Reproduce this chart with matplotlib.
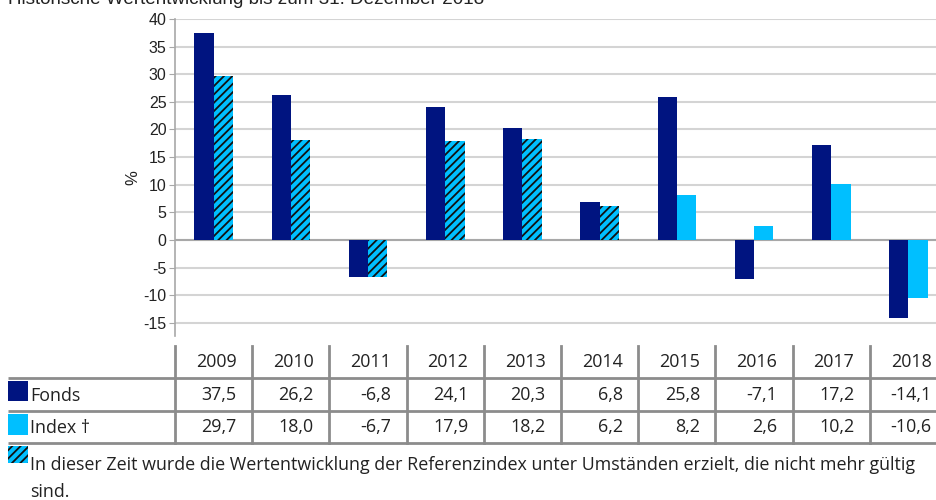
import matplotlib
matplotlib.use("Agg")
import matplotlib.pyplot as plt
import matplotlib.transforms as mtransforms
from matplotlib.patches import Rectangle
import numpy as np

plt.rcParams['axes.unicode_minus'] = False
plt.rcParams['hatch.linewidth'] = 1.3
plt.rcParams['hatch.color'] = '#111111'

years = ["2009", "2010", "2011", "2012", "2013", "2014", "2015", "2016", "2017", "2018"]
fonds = [37.5, 26.2, -6.8, 24.1, 20.3, 6.8, 25.8, -7.1, 17.2, -14.1]
index = [29.7, 18.0, -6.7, 17.9, 18.2, 6.2, 8.2, 2.6, 10.2, -10.6]
hatched = [True, True, True, True, True, True, False, False, False, False]
series_names = ["Fonds", "Index †"]
yticks = [-15, -10, -5, 0, 5, 10, 15, 20, 25, 30, 35, 40]
title = "Historische Wertentwicklung bis zum 31. Dezember 2018"
footnote1 = "In dieser Zeit wurde die Wertentwicklung der Referenzindex unter Umständen erzielt, die nicht mehr gültig"
footnote2 = "sind."

C_FONDS = "#001480"
C_INDEX = "#00BFFF"
GRID = "#D4D4D4"
TABLE_LINE = "#8C8C8C"
TXT = "#222222"
HATCH = "////"

W, H = 936, 500
fig = plt.figure(figsize=(W / 100, H / 100), dpi=100)

# overlay in pixel coordinates
ov = fig.add_axes([0, 0, 1, 1], zorder=0)
ov.set_xlim(0, W)
ov.set_ylim(H, 0)
ov.axis("off")

left_px, right_px, top_px, bot_px = 175, 947, 19, 336
ax = fig.add_axes([left_px / W, 1 - bot_px / H, (right_px - left_px) / W, (bot_px - top_px) / H], zorder=1)
ax.patch.set_alpha(0)

x = np.arange(len(years))
bw = 0.25
ax.bar(x - bw / 2, fonds, width=bw, color=C_FONDS, zorder=3)
for i, (v, h) in enumerate(zip(index, hatched)):
    ax.bar(x[i] + bw / 2, v, width=bw, facecolor=C_INDEX, zorder=3,
           hatch=HATCH if h else None, linewidth=0)

ax.set_xlim(-0.5, len(years) - 0.5)
ax.set_ylim(-17.4, 40)
ax.set_yticks(yticks)
ax.set_yticklabels([str(t) for t in yticks], fontsize=11.5, color=TXT, family="Liberation Sans")
ax.set_xticks([])
ax.yaxis.grid(True, color=GRID, linewidth=1.5, zorder=0)
ax.axhline(0, color="#A8A8A8", linewidth=1.5, zorder=2)
for s in ["top", "right", "bottom"]:
    ax.spines[s].set_visible(False)
ax.spines["left"].set_color("#A8A8A8")
ax.spines["left"].set_linewidth(1.2)
ax.tick_params(axis="y", length=4, color="#A8A8A8", pad=2)
ax.set_ylabel("%", fontsize=12, color=TXT, labelpad=2, family="Liberation Sans")

# title (clipped at top)
ov.text(8, 4, title, fontsize=13.6, color=TXT, va="baseline", ha="left", family="Liberation Sans")

# table
tr = mtransforms.blended_transform_factory(ax.transData, ov.transData)
tfont = dict(family="Open Sans", fontsize=12.9, color=TXT)
row_lines = [378, 411, 443]
for yl in row_lines:
    ov.plot([8, W], [yl, yl], color=TABLE_LINE, linewidth=2, solid_capstyle="butt")
for b in np.arange(-0.5, len(years) + 0.5, 1):
    ov.plot([b, b], [346, 443], color=TABLE_LINE, linewidth=2, transform=tr, clip_on=False)

pad_col = 0.2
for i, yr in enumerate(years):
    ov.text(x[i] + 0.5 - pad_col, 362, yr, ha="right", va="center", transform=tr, **tfont)
    ov.text(x[i] + 0.5 - pad_col, 395, f"{fonds[i]:.1f}".replace(".", ","), ha="right", va="center", transform=tr, **tfont)
    ov.text(x[i] + 0.5 - pad_col, 427, f"{index[i]:.1f}".replace(".", ","), ha="right", va="center", transform=tr, **tfont)

ov.add_patch(Rectangle((8, 381), 20, 20, facecolor=C_FONDS, linewidth=0))
ov.add_patch(Rectangle((8, 414), 20, 21, facecolor=C_INDEX, linewidth=0))
ov.text(30, 396, series_names[0], ha="left", va="center", **tfont)
ov.text(30, 428, series_names[1], ha="left", va="center", **tfont)

ov.add_patch(Rectangle((8, 446), 20, 17, facecolor=C_INDEX, hatch=HATCH, linewidth=0))
ov.text(30, 465, footnote1, ha="left", va="center", **tfont)
ov.text(30, 492, footnote2, ha="left", va="center", **tfont)

fig.savefig("out.png", dpi=100)
